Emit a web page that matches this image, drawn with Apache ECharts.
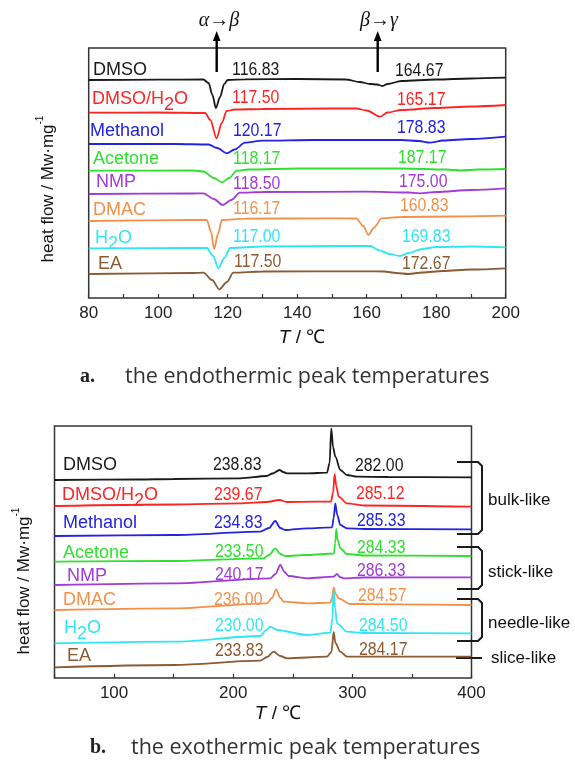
<!DOCTYPE html>
<html lang="en">
<head>
<meta charset="UTF-8">
<title>DSC curves</title>
<style>
    html, body { margin: 0; padding: 0; background: #fff; }
    #chart { width: 575px; height: 762px; }
</style>
</head>
<body>
<div id="chart"></div>
<script src="https://cdn.jsdelivr.net/npm/echarts@6/dist/echarts.min.js"></script>
<script>
    // solvents, top to bottom, and their colours
    var solvents = ['DMSO', 'DMSO/H{sub|2}O', 'Methanol', 'Acetone', 'NMP', 'DMAC', 'H{sub|2}O', 'EA'];
    var colors = ['#1a1a1a', '#ff2424', '#2323e0', '#2fe02f', '#a23bd6', '#f3904a', '#2fe6f2', '#8c5a32'];

    // peak temperatures written on the chart
    var endoAlphaBeta = ['116.83', '117.50', '120.17', '118.17', '118.50', '116.17', '117.00', '117.50'];
    var endoBetaGamma = ['164.67', '165.17', '178.83', '187.17', '175.00', '160.83', '169.83', '172.67'];
    var exoLow = ['238.83', '239.67', '234.83', '233.50', '240.17', '236.00', '230.00', '233.83'];
    var exoHigh = ['282.00', '285.12', '285.33', '284.33', '286.33', '284.57', '284.50', '284.17'];

    // x ticks
    var endoTicks = [80, 100, 120, 140, 160, 180, 200];
    var exoTicks = [100, 200, 300, 400];

    // a. endothermic curves  [T, heat flow (offset units)]
    var endoDMSO = [[80,218],[100,218.3],[113,218.5],[114.5,215],[115.6,203],[116.6,190],[117.8,201],[119,214],[120,218],[125,218.7],[140,219],[154,218.5],[158,216],[161,214],[163,213.5],[164.5,212],[166,214],[170,217],[180,218.5],[190,219.5],[200,220.3]];
    var endoDMSOH2O = [[80,185.3],[100,185.5],[113.5,185],[115,178],[116.8,159.7],[118.3,175],[119.7,187],[122,188.5],[130,189],[150,189.5],[157,189.5],[160,187.5],[163.8,181.3],[166,185.5],[170,188],[180,190],[190,191.5],[200,193]];
    var endoMethanol = [[80,154],[105,154],[114.5,153.5],[117,150],[119.7,144.7],[122,148.5],[125,155.3],[130,157.3],[145,158],[170,158],[175,157],[178.2,155.3],[182,157.5],[190,159],[200,161.3]];
    var endoAcetone = [[80,127.3],[110,127.5],[113,126.5],[116,120],[118.3,115.7],[120.5,120],[122.6,127.3],[126,128.5],[140,129.5],[170,129.5],[183,128.5],[187,127.5],[192,128.5],[200,129]];
    var endoNMP = [[80,104],[110,104.5],[113,104.7],[116,99],[118.6,93],[121,98],[123.5,105.3],[130,106],[160,106.3],[172,105.5],[175.3,104.7],[180,106],[190,108],[200,109.7]];
    var endoDMAC = [[80,77],[110,78],[114,78],[115.2,66],[116.1,49],[117.2,64],[118.3,78],[125,79.3],[150,79.7],[157,79.5],[159,72],[160.5,63],[162,70],[164.3,79.7],[170,81],[185,81.5],[200,82.3]];
    var endoH2O = [[80,49.7],[110,50],[114,50],[115.8,42],[117.3,29.7],[119,40],[120.7,50],[130,51.5],[155,52],[161,52],[163.7,47.7],[166.5,44],[169.6,42],[172,45],[176,49],[180,51],[190,51.5],[200,50.7]];
    var endoEA = [[80,24],[110,25],[113,25.3],[115.5,18],[117.6,8.7],[119.8,16],[121.6,25.3],[130,26.5],[160,26.7],[165,26.5],[168.5,25],[172,24],[176,25.5],[182,27],[190,28.5],[200,29.7]];

    // b. exothermic curves
    var exoDMSO = [[50,198],[120,198.5],[150,199],[206,199.7],[228,202],[233,204.5],[238.9,208],[242,206],[245,204.7],[262,204.7],[278.7,205.3],[280.9,215],[282.3,249.7],[283.8,231],[285.7,221.3],[289.9,208],[295.5,203],[304,201.3],[330,201],[400,200.7]];
    var exoDMSOH2O = [[50,172],[150,173.5],[206,174.7],[228,176],[238.9,178],[245,176],[270,176.3],[282,176.5],[283.8,185],[285.1,204],[286.5,192],[288.5,181.3],[295.5,174.7],[310,172.5],[400,171.3]];
    var exoMethanol = [[50,142],[150,143],[222.7,146.3],[230,150],[235.3,157],[239.5,150],[243.7,148],[262,149.7],[283,150.7],[284.3,160],[285.7,174.7],[287.3,163],[289.9,153],[295.5,149.7],[310,149],[400,148.7]];
    var exoAcetone = [[50,116.3],[150,117],[225.5,119.7],[230,123],[235.3,129.7],[239.5,124],[243.7,122],[262,123],[284.5,124.5],[285.6,135],[286.5,149],[287.6,138],[289.9,129.7],[295.5,124],[310,122.5],[400,122]];
    var exoNMP = [[50,93],[150,94.7],[231.1,99.7],[235.5,104],[239.5,113],[243,106],[246.5,102],[262,99.7],[284.3,101.3],[287.1,104],[289.5,101],[292.7,99.7],[310,100.5],[400,100.7]];
    var exoDMAC = [[50,68],[150,69.7],[228.3,74.7],[232.5,80],[236.1,88.7],[239.5,80],[242.3,76.3],[262,74.7],[281.5,75.3],[283,80],[284.3,90.7],[286,84],[288.5,79.7],[298.3,74],[400,73]];
    var exoH2O = [[50,34.7],[150,36.3],[222.7,42],[227,47],[231.1,51.3],[236.7,48],[262,43],[281.5,45.3],[283.3,60],[284.3,88],[285.5,70],[287.1,54.7],[295.5,46.3],[310,45],[400,44.7]];
    var exoEA = [[50,10.7],[150,13],[222.7,17.3],[228.5,21],[233.9,26.3],[239.5,22],[245.1,19.7],[278.7,21.3],[282.5,26],[284.3,46],[285.8,35],[289.9,26.3],[295.5,21.3],[310,21.3],[400,21.3]];

    var endoCurves = [endoDMSO, endoDMSOH2O, endoMethanol, endoAcetone, endoNMP, endoDMAC, endoH2O, endoEA];
    var exoCurves = [exoDMSO, exoDMSOH2O, exoMethanol, exoAcetone, exoNMP, exoDMAC, exoH2O, exoEA];

    var sans = 'Liberation Sans, Arial, sans-serif';

    // label layout (pixels)
    var endoNameX = [93, 92, 90, 93, 96, 93, 95, 98];
    var endoNameY = [70, 99.5, 131, 159.5, 182.5, 210, 238, 264];
    var endoCol1X = [232, 232, 233, 233, 233, 233, 233, 234];
    var endoCol1Y = [70, 98, 131, 159, 184, 209, 237, 262];
    var endoCol2X = [395, 397, 397, 398, 399, 400, 402, 402];
    var endoCol2Y = [71, 100, 128, 158, 182, 206, 237, 264];
    var exoNameX = [63, 62, 63, 63, 67, 63, 64, 67];
    var exoNameY = [465, 495, 523, 553, 576, 600, 628, 656];
    var exoCol1X = [213, 214, 214, 215, 215, 214, 215, 215];
    var exoCol1Y = [465, 495, 523, 552, 575, 600, 626, 651];
    var exoCol2X = [355, 356, 357, 357, 357, 358, 359, 359];
    var exoCol2Y = [466, 494, 521, 548, 571, 596, 626, 650];

    var chart = echarts.init(document.getElementById('chart'));

    function xAxisFor(grid, min, max, step, labels) {
        return {
            gridIndex: grid, type: 'value', min: min, max: max, interval: step,
            axisLine: {show: false},
            axisTick: {show: true, inside: true, length: 4, lineStyle: {color: '#333', width: 1.2}},
            splitLine: {show: false},
            axisLabel: {
                fontSize: 17, color: '#222', fontFamily: sans, margin: 7,
                formatter: function (v) { return labels.indexOf(v) >= 0 ? String(v) : ''; }
            }
        };
    }

    var series = [];
    endoCurves.forEach(function (d, i) {
        series.push({type: 'line', xAxisIndex: 0, yAxisIndex: 0, data: d, showSymbol: false,
            smooth: 0.3, smoothMonotone: 'x', lineStyle: {color: colors[i], width: 1.8}, silent: true});
    });
    exoCurves.forEach(function (d, i) {
        series.push({type: 'line', xAxisIndex: 1, yAxisIndex: 1, data: d, showSymbol: false,
            smooth: 0.3, smoothMonotone: 'x', lineStyle: {color: colors[i], width: 1.8}, silent: true});
    });

    var graphic = [];
    function txt(x, y, text, color, opt) {
        opt = opt || {};
        var hasSub = text.indexOf('{sub|') >= 0;
        var t = hasSub ? text.replace(/^([^{]+)/, '{n|$1}').replace(/\}([^{}]+)$/, '}{n|$1}') : text;
        graphic.push({
            type: 'text', x: x, y: y + (hasSub ? 3 : 0), scaleX: opt.scaleX || 1, silent: true,
            style: {
                text: t, fill: color, font: (opt.size || 18) + 'px ' + sans,
                align: opt.align || 'left', verticalAlign: 'middle',
                rich: {
                    n: {verticalAlign: 'top', fontSize: opt.size || 18, fontFamily: sans},
                    sub: {verticalAlign: 'top', fontSize: opt.size || 18, fontFamily: sans, padding: [6, 0, 0, 0]}
                }
            }
        });
    }

    for (var i = 0; i < solvents.length; i++) {
        txt(endoNameX[i], endoNameY[i], solvents[i], colors[i]);
        txt(endoCol1X[i], endoCol1Y[i], endoAlphaBeta[i], colors[i], {scaleX: 0.88});
        txt(endoCol2X[i], endoCol2Y[i], endoBetaGamma[i], colors[i], {scaleX: 0.88});
        txt(exoNameX[i], exoNameY[i], solvents[i], colors[i]);
        txt(exoCol1X[i], exoCol1Y[i], exoLow[i], colors[i], {scaleX: 0.88});
        txt(exoCol2X[i], exoCol2Y[i], exoHigh[i], colors[i], {scaleX: 0.88});
    }

    // transition arrows
    [[216.7, '\u03b1\u2192\u03b2', 219], [377.7, '\u03b2\u2192\u03b3', 379]].forEach(function (a) {
        graphic.push({type: 'line', silent: true, shape: {x1: a[0], y1: 72, x2: a[0], y2: 39},
            style: {stroke: '#000', lineWidth: 2.4}});
        graphic.push({type: 'polygon', silent: true, shape: {points: [[a[0], 31], [a[0] - 3.8, 41], [a[0] + 3.8, 41]]},
            style: {fill: '#000'}});
        graphic.push({type: 'text', x: a[2], y: 21, silent: true,
            style: {text: a[1], fill: '#111', font: 'italic 20px Liberation Serif, serif', align: 'center', verticalAlign: 'middle'}});
    });

    // crystal shape brackets
    var brackets = [[462, 534, 'bulk-like', 500], [547, 589, 'stick-like', 572], [599, 641, 'needle-like', 623]];
    brackets.forEach(function (b) {
        graphic.push({type: 'polyline', silent: true,
            shape: {points: [[457, b[0]], [478, b[0]], [482, b[0] + 4], [482, b[1] - 4], [478, b[1]], [457, b[1]]]},
            style: {stroke: '#1a1a1a', lineWidth: 2, fill: null}});
        txt(488, b[3], b[2], '#111', {size: 17});
    });
    graphic.push({type: 'line', silent: true, shape: {x1: 456, y1: 658, x2: 482, y2: 658},
        style: {stroke: '#1a1a1a', lineWidth: 2}});
    txt(491, 658, 'slice-like', '#111', {size: 17});

    // axis titles
    function yTitle(x, y) {
        graphic.push({type: 'text', x: x, y: y, rotation: Math.PI / 2, silent: true,
            style: {text: '{n|heat flow / Mw\u00b7mg}{s|-1}', fill: '#111', align: 'center', verticalAlign: 'middle',
                rich: {n: {fontSize: 17, fontFamily: sans, verticalAlign: 'top', padding: [5, 0, 0, 0]},
                       s: {fontSize: 10, fontFamily: sans, verticalAlign: 'top'}}}});
    }
    yTitle(46, 189);
    yTitle(22, 581);
    function xTitle(x, y) {
        graphic.push({type: 'text', x: x, y: y, silent: true,
            style: {text: '{i|T} / \u2103', fill: '#111', align: 'center', verticalAlign: 'middle', fontSize: 19, fontFamily: sans,
                rich: {i: {fontStyle: 'italic', fontSize: 19, fontFamily: sans}}}});
    }
    xTitle(302, 338);
    xTitle(278, 714);

    // captions
    function caption(x, y, tag, text, x2) {
        graphic.push({type: 'text', x: x, y: y, silent: true,
            style: {text: tag, fill: '#222', font: 'bold 20px Liberation Serif, serif', verticalAlign: 'middle'}});
        graphic.push({type: 'text', x: x2, y: y, silent: true,
            style: {text: text, fill: '#333', font: '21.5px Open Sans, sans-serif', verticalAlign: 'middle'}});
    }
    caption(80, 377, 'a.', 'the endothermic peak temperatures', 125);
    caption(90, 748, 'b.', 'the exothermic peak temperatures', 131);

    var option = {
        animation: false,
        backgroundColor: '#fff',
        grid: [
            {left: 88.7, top: 48, width: 417, height: 250, show: true, borderColor: '#333', borderWidth: 1.5},
            {left: 54.5, top: 426, width: 417, height: 252, show: true, borderColor: '#333', borderWidth: 1.5}
        ],
        xAxis: [
            xAxisFor(0, 80, 200, 10, endoTicks),
            xAxisFor(1, 50, 400, 50, exoTicks)
        ],
        yAxis: [
            {gridIndex: 0, type: 'value', min: 0, max: 250, show: false},
            {gridIndex: 1, type: 'value', min: 0, max: 252, show: false}
        ],
        series: series,
        graphic: graphic
    };
    chart.setOption(option);
</script>
</body>
</html>
